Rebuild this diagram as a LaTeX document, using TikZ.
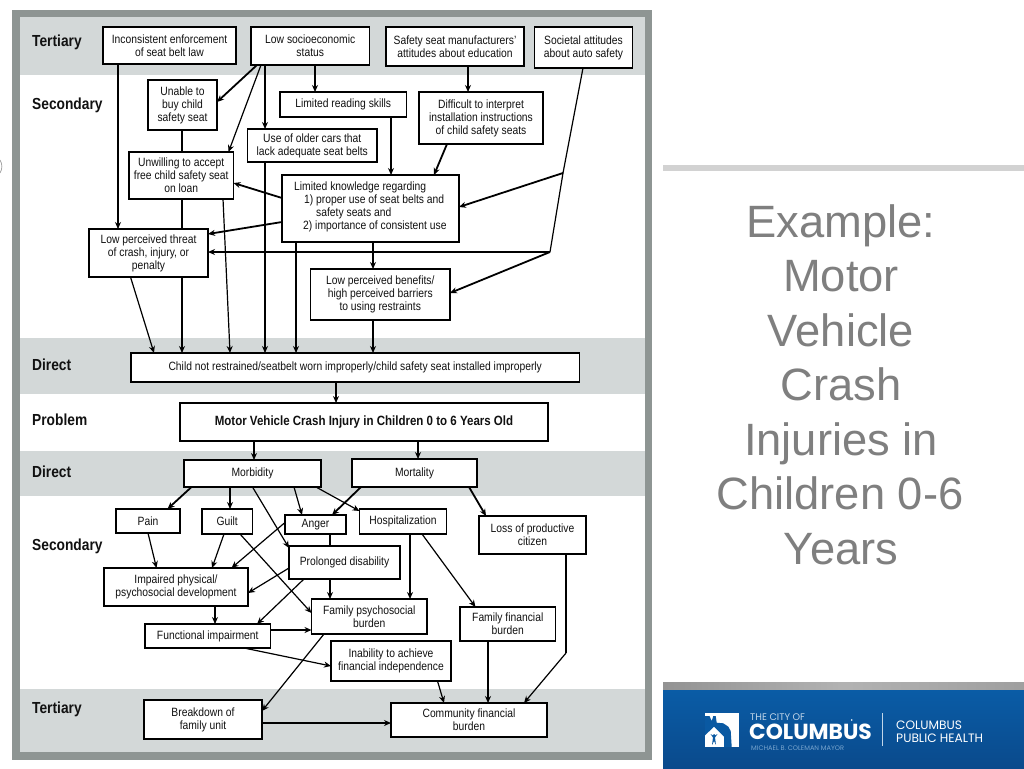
\documentclass[tikz,border=0pt]{standalone}
\usepackage{fontspec}
\setmainfont[FakeStretch=0.86]{Liberation Sans}
\newfontfamily\plainsans{Liberation Sans}
\newfontfamily\logosans{Poppins}
\definecolor{band}{HTML}{D3D8D8}
\definecolor{frameg}{HTML}{8E9593}
\definecolor{titleg}{HTML}{7F7F7F}
\definecolor{ink}{HTML}{111111}
\definecolor{bluetop}{HTML}{0A5CA6}
\definecolor{bluebot}{HTML}{0A4A8C}
\usetikzlibrary{arrows.meta}
\tikzset{
  x=1pt,y=-1pt,
  box/.style={draw=black,line width=1.7pt,fill=white,inner sep=0pt,outer sep=0pt,align=center,font=\fontsize{12}{13}\selectfont,text=ink},
  lev/.style={anchor=west,inner sep=0pt,font=\bfseries\fontsize{16}{18}\selectfont,text=ink},
  arr/.style={-{Stealth[length=7pt,width=6pt]},line width=1.8pt,black},
  thin arr/.style={-{Stealth[length=7pt,width=6pt]},line width=1.2pt,black},
  ln/.style={line width=1.8pt,black},
  thin ln/.style={line width=1.2pt,black},
  title/.style={anchor=base,inner sep=0pt,text=titleg,font=\plainsans\fontsize{45.3}{47}\selectfont},
  logo/.style={anchor=base west,inner sep=0pt,text=white},
}
\newcommand{\bx}[6]{%
  \pgfmathsetmacro{\bxw}{#4-#2}\pgfmathsetmacro{\bxh}{#5-#3}%
  \pgfmathsetmacro{\bxcx}{(#4+#2)/2}\pgfmathsetmacro{\bxcy}{(#5+#3)/2}%
  \node[box,minimum width=\bxw pt,minimum height=\bxh pt] (#1) at (\bxcx,\bxcy) {#6};}
\begin{document}
\begin{tikzpicture}
\useasboundingbox (0,0) rectangle (1024,768);
\fill[white] (0,0) rectangle (1024,768);
\draw[gray!70,line width=0.8pt] (0,160) .. controls (2.5,164) and (2.5,169) .. (0,173);
% frame and bands
\fill[frameg] (12,10) rectangle (652,760);
\fill[white] (20,17) rectangle (645,752);
\fill[band] (20,17) rectangle (645,75);
\fill[band] (20,338) rectangle (645,394);
\fill[band] (20,451) rectangle (645,496);
\fill[band] (20,689) rectangle (645,752);
\node[lev] (l1) at (32,42) {Tertiary};
\node[lev] (l2) at (32,105) {Secondary};
\node[lev] (l3) at (32,365) {Direct};
\node[lev] (l4) at (32,420) {Problem};
\node[lev] (l5) at (32,472) {Direct};
\node[lev] (l6) at (32,546) {Secondary};
\node[lev] (l7) at (32,709) {Tertiary};
\bx{inc}{103}{27}{236}{64}{Inconsistent enforcement\\of seat belt law}
\bx{ses}{251}{27}{369.5}{65}{Low socioeconomic\\status}
\bx{mfr}{386}{27}{524}{66}{Safety seat manufacturers'\\attitudes about education}
\bx{soc}{534.5}{27}{632.5}{68}{Societal attitudes\\about auto safety}
\bx{unable}{148}{80}{217}{130}{Unable to\\buy child\\safety seat}
\bx{read}{280}{92}{406.5}{117}{Limited reading skills}
\bx{diff}{419}{92}{543}{144}{Difficult to interpret\\installation instructions\\of child safety seats}
\bx{older}{247.5}{129}{377}{162}{Use of older cars that\\lack adequate seat belts}
\bx{unw}{129}{152}{233.5}{199}{Unwilling to accept\\free child safety seat\\on loan}
\bx{know}{282}{175}{459}{242}{}
\node[anchor=north west,inner sep=0pt,align=left,font=\fontsize{12}{13}\selectfont,text=ink] (knowt) at (294,182) {Limited knowledge regarding\\\hspace*{10pt}1) proper use of seat belts and\\\hspace*{22pt}safety seats and\\\hspace*{9pt}2) importance of consistent use};
\bx{threat}{89}{229}{208}{277}{Low perceived threat\\of crash, injury, or\\penalty}
\bx{ben}{310.5}{269}{450}{320}{Low perceived benefits/\\high perceived barriers\\to using restraints}
\bx{child}{131}{353}{579.5}{382}{Child not restrained/seatbelt worn improperly/child safety seat installed improperly}
\bx{prob}{180}{403}{548}{441}{\bfseries\fontsize{13.4}{15}\selectfont Motor Vehicle Crash Injury in Children 0 to 6 Years Old}
\bx{morb}{184}{460}{321}{487}{Morbidity}
\bx{mort}{352}{459}{477}{487}{Mortality}
\bx{pain}{116}{509}{180}{533}{Pain}
\bx{guilt}{202}{509}{252.5}{534}{Guilt}
\bx{anger}{285}{515}{346}{534}{Anger}
\bx{hosp}{359.5}{509}{446.5}{534}{Hospitalization}
\bx{loss}{479}{516}{586}{554}{Loss of productive\\citizen}
\bx{prol}{289}{546}{400}{579}{Prolonged disability}
\bx{imp}{104}{568}{248}{606}{Impaired physical/\\psychosocial development}
\bx{fam}{311.5}{599}{427}{634}{Family psychosocial\\burden}
\bx{ffin}{460}{607}{555.5}{641}{Family financial\\burden}
\bx{func}{145}{624}{270.5}{648}{Functional impairment}
\bx{inab}{331}{641}{451}{681}{Inability to achieve\\financial independence}
\bx{brk}{144}{700}{262}{739}{Breakdown of\\family unit}
\bx{comm}{391}{703}{547}{737}{Community financial\\burden}
% tertiary / upper secondary connectors
\draw[arr] (inc.south -| 118,0) -- (threat.north -| 118,0);
\draw[arr] (ses.south -| 257,0) -- (unable.east |- 0,102);
\draw[thin arr] (ses.south -| 261,0) -- (unw.north -| 228.5,0);
\draw[arr] (ses.south -| 265,0) -- (older.north -| 265,0);
\draw[arr] (older.south -| 265,0) -- (child.north -| 265,0);
\draw[arr] (ses.south -| 315,0) -- (read.north -| 315,0);
\draw[arr] (mfr.south -| 468,0) -- (diff.north -| 468,0);
\draw[arr] (read.south -| 391,0) -- (know.north -| 391,0);
\draw[arr] (diff.south -| 447,0) -- (know.north -| 434,0);
\coordinate (socA) at (563,173);
\coordinate (socB) at (550,252);
\draw[thin ln] (soc.south -| 583,0) -- (socA) -- (socB);
\draw[arr] (socA) -- (know.east |- 0,207);
\draw[arr] (socB) -- (threat.east |- socB);
\draw[arr] (socB) -- (ben.east |- 0,293);
\draw[arr] (know.west |- 0,198) -- (unw.east |- 0,183);
\draw[arr] (know.west |- 0,222) -- (threat.east |- 0,234);
\draw[ln] (unable.south -| 182,0) -- (unw.north -| 182,0);
\draw[ln] (unw.south -| 182,0) -- (threat.north -| 182,0);
\draw[arr] (threat.south -| 182,0) -- (child.north -| 182,0);
\draw[thin arr] (threat.south -| 130.5,0) -- (child.north -| 154,0);
\draw[thin arr] (unw.south -| 223,0) -- (child.north -| 230,0);
\draw[arr] (know.south -| 296,0) -- (child.north -| 296,0);
\draw[arr] (know.south -| 373,0) -- (ben.north -| 373,0);
\draw[arr] (ben.south -| 373,0) -- (child.north -| 373,0);
\draw[arr] (child.south -| 336,0) -- (prob.north -| 336,0);
\draw[arr] (prob.south -| 254,0) -- (morb.north -| 254,0);
\draw[arr] (prob.south -| 418,0) -- (mort.north -| 418,0);
% lower connectors
\draw[arr] (morb.south -| 191.5,0) -- (pain.north -| 167.5,0);
\draw[arr] (morb.south -| 230,0) -- (guilt.north -| 230,0);
\draw[thin arr] (morb.south -| 252.5,0) -- (prol.west |- 0,548);
\draw[thin arr] (morb.south -| 294,0) -- (anger.north -| 302,0);
\draw[thin arr] (morb.south -| 316,0) -- (hosp.west |- 0,511);
\draw[arr] (mort.south -| 361,0) -- (anger.north -| 332,0);
\draw[arr] (mort.south -| 469,0) -- (loss.north -| 486,0);
\draw[thin arr] (pain.south -| 148,0) -- (imp.north -| 156.5,0);
\draw[thin arr] (guilt.south -| 224,0) -- (imp.north -| 212,0);
\draw[thin arr] (guilt.south -| 240,0) -- (fam.west |- 0,613);
\draw[thin arr] (anger.west |- 0,522.5) -- (imp.north -| 231.5,0);
\draw[ln] (anger.south -| 330,0) -- (prol.north -| 330,0);
\draw[thin arr] (prol.west |- 0,568) -- (imp.east |- 0,593);
\draw[thin arr] (prol.south -| 304,0) -- (func.north -| 257,0);
\draw[arr] (prol.south -| 330,0) -- (fam.north -| 330,0);
\draw[arr] (hosp.south -| 410,0) -- (fam.north -| 410,0);
\draw[thin arr] (hosp.south -| 422,0) -- (ffin.north -| 475.5,0);
\draw[arr] (imp.south -| 215,0) -- (func.north -| 215,0);
\draw[arr] (func.east |- 0,630) -- (fam.west |- 0,630);
\draw[thin arr] (func.south -| 244,0) -- (inab.west |- 0,666);
\draw[thin arr] (fam.south -| 324,0) -- (brk.east |- 0,711);
\draw[thin arr] (inab.south -| 437.5,0) -- (comm.north -| 444,0);
\draw[arr] (ffin.south -| 488,0) -- (comm.north -| 488,0);
\coordinate (lossB) at (566,653);
\draw[thin ln] (loss.south -| 566,0) -- (lossB);
\draw[thin arr] (lossB) -- (comm.north -| 524,0);
\draw[arr] (brk.east |- 0,723) -- (comm.west |- 0,723);
% right panel
\fill[gray!35] (663,165) rectangle (1024,171);
\node[title] (t1) at (841,237) {Example:};
\node[title] (t2) at (841,291.5) {Motor};
\node[title] (t3) at (841,346) {Vehicle};
\node[title] (t4) at (841,400.5) {Crash};
\node[title] (t5) at (841,455) {Injuries in};
\node[title] (t6) at (840,509.5) {Children 0-6};
\node[title] (t7) at (841,564) {Years};
% footer
\shade[left color=gray!85,right color=gray!75,middle color=gray!60] (663,682) rectangle (1024,690);
\shade[top color=bluetop,bottom color=bluebot] (663,690) rectangle (1024,768);
% logo
\fill[white] (705,713.3) rectangle (739.3,747);
\fill[bluetop!85!bluebot] (705,716) -- (709.5,716) -- (711.7,721) -- (713.3,716) -- (715.7,716) -- (716.7,722.7) -- (723.3,723.3) -- (728.3,726.7) -- (730.7,731) -- (731.7,747) -- (724,747) -- (724,736.7) -- (714,726.7) -- (705,735.3) -- cycle;
\fill[bluetop!85!bluebot] (714,735.5) circle (1.5);
\fill[bluetop!85!bluebot] (710.5,734) -- (713,737.5) -- (712,745) -- (714,741) -- (716,745) -- (715,737.5) -- (717.5,734) -- (714,736) -- cycle;
\node[logo,text=white!75!bluetop,text height=7pt,text depth=0pt,font=\logosans\fontsize{9.6}{11}\selectfont] (lg1) at (750,720) {THE CITY OF};
\node[logo,text height=15pt,text depth=0pt,font=\logosans\bfseries\fontsize{21.8}{23}\selectfont] (lg2) at (749,739) {COLUMBUS};
\fill[white] (851.7,720) circle (0.9);
\node[logo,text=white!45!bluetop,text height=5pt,text depth=0pt,font=\logosans\fontsize{6.6}{8}\selectfont] (lg3) at (751,750) {MICHAEL B. COLEMAN MAYOR};
\draw[white!75!bluetop,line width=0.9pt] (882.7,713) -- (882.7,746);
\node[logo,text height=8pt,text depth=0pt,font=\logosans\fontsize{12.2}{13}\selectfont] (lg4) at (896,729.5) {COLUMBUS};
\node[logo,text height=8pt,text depth=0pt,font=\logosans\fontsize{12.2}{13}\selectfont] (lg5) at (896,742.5) {PUBLIC HEALTH};
\end{tikzpicture}
\end{document}
